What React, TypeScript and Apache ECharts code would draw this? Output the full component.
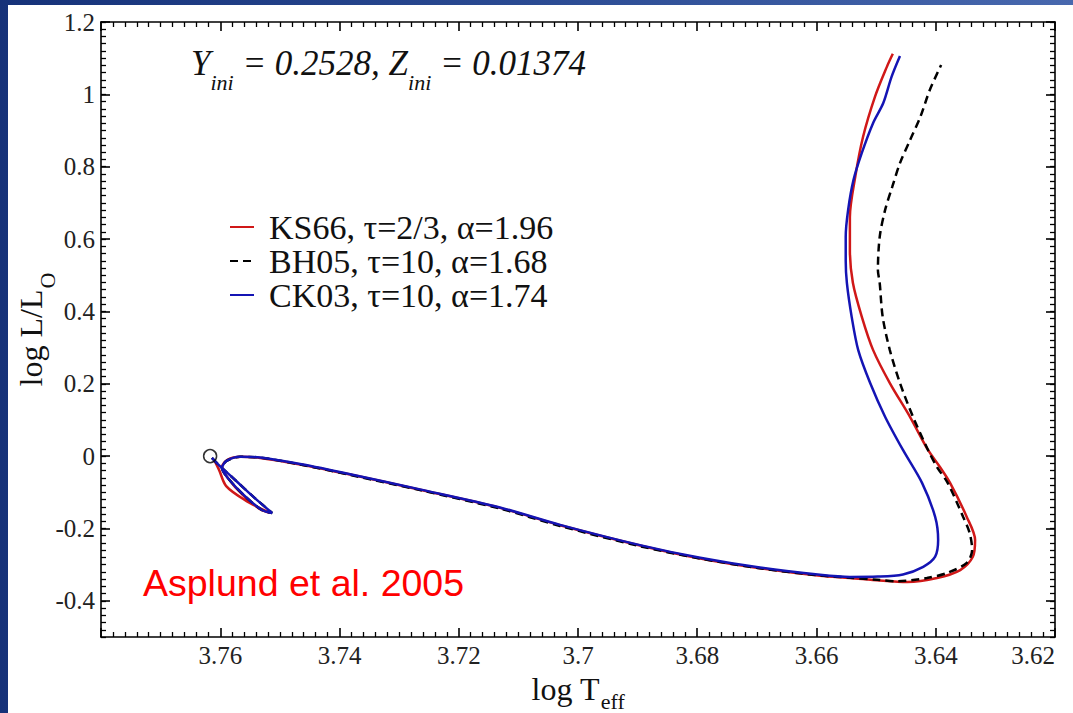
import React, { useEffect, useRef } from "react";
import * as echarts from "echarts";

// log Teff (x) , log L/Lsun (y)
const ks66Track: [number, number][] = [
  [3.7610, -0.011], [3.7602, -0.038], [3.7590, -0.083], [3.7559, -0.121], [3.7517, -0.157],
  [3.7533, -0.147], [3.7562, -0.108], [3.7587, -0.061], [3.7597, -0.030], [3.7588, -0.010],
  [3.7565, -0.002], [3.7533, -0.005], [3.7466, -0.023], [3.7382, -0.051], [3.7265, -0.093],
  [3.7131, -0.143], [3.7030, -0.191], [3.6896, -0.247], [3.6795, -0.283], [3.6695, -0.310],
  [3.6594, -0.331], [3.6544, -0.337], [3.6494, -0.344], [3.6448, -0.348], [3.6398, -0.337],
  [3.6359, -0.315], [3.6338, -0.279], [3.6334, -0.232], [3.6348, -0.168], [3.6376, -0.074],
  [3.6393, -0.030], [3.6413, 0.017], [3.6443, 0.108], [3.6477, 0.202], [3.6505, 0.293],
  [3.6524, 0.385], [3.6539, 0.479], [3.6544, 0.570], [3.6544, 0.661], [3.6535, 0.772],
  [3.6522, 0.882], [3.6502, 0.993], [3.6482, 1.076], [3.6472, 1.112],
];

const bh05Track: [number, number][] = [
  [3.7614, -0.005], [3.7604, -0.022], [3.7575, -0.066], [3.7542, -0.116], [3.7513, -0.157],
  [3.7530, -0.149], [3.7559, -0.110], [3.7587, -0.061], [3.7597, -0.033], [3.7590, -0.014],
  [3.7567, -0.002], [3.7533, -0.004], [3.7466, -0.023], [3.7382, -0.052], [3.7265, -0.094],
  [3.7131, -0.145], [3.7030, -0.193], [3.6896, -0.249], [3.6795, -0.283], [3.6695, -0.310],
  [3.6594, -0.330], [3.6544, -0.336], [3.6498, -0.342], [3.6465, -0.346], [3.6415, -0.337],
  [3.6381, -0.323], [3.6348, -0.295], [3.6339, -0.259], [3.6343, -0.213], [3.6354, -0.168],
  [3.6380, -0.074], [3.6398, -0.030], [3.6413, 0.017], [3.6438, 0.108], [3.6460, 0.202],
  [3.6477, 0.293], [3.6489, 0.385], [3.6494, 0.479], [3.6497, 0.514], [3.6494, 0.606],
  [3.6485, 0.680], [3.6473, 0.744], [3.6460, 0.810], [3.6443, 0.874], [3.6426, 0.937],
  [3.6410, 1.012], [3.6391, 1.081],
];

const ck03Track: [number, number][] = [
  [3.7614, -0.005], [3.7604, -0.022], [3.7575, -0.066], [3.7542, -0.116], [3.7513, -0.157],
  [3.7530, -0.149], [3.7559, -0.110], [3.7587, -0.061], [3.7597, -0.033], [3.7590, -0.014],
  [3.7567, -0.002], [3.7533, -0.004], [3.7466, -0.022], [3.7382, -0.050], [3.7265, -0.092],
  [3.7131, -0.142], [3.7030, -0.190], [3.6896, -0.246], [3.6795, -0.281], [3.6695, -0.308],
  [3.6594, -0.328], [3.6544, -0.334], [3.6497, -0.333], [3.6455, -0.327], [3.6421, -0.306],
  [3.6401, -0.278], [3.6396, -0.232], [3.6401, -0.168], [3.6423, -0.074], [3.6455, 0.017],
  [3.6485, 0.109], [3.6510, 0.202], [3.6530, 0.293], [3.6541, 0.385], [3.6549, 0.478],
  [3.6551, 0.540], [3.6551, 0.606], [3.6547, 0.680], [3.6538, 0.763], [3.6524, 0.838],
  [3.6505, 0.921], [3.6488, 0.976], [3.6474, 1.049], [3.6460, 1.106],
];

const sunPoint: [number, number][] = [[3.7617, 0]];

const seriesNames = ["KS66, τ=2/3, α=1.96", "BH05, τ=10, α=1.68", "CK03, τ=10, α=1.74"];
const seriesColors = ["#d01818", "#000000", "#1414b4"];

const X_MIN = 3.62;
const X_MAX = 3.78;
const X_STEP = 0.02;
const Y_MIN = -0.5;
const Y_MAX = 1.2;
const Y_LABEL_MIN = -0.4;
const Y_STEP = 0.2;

const annotation = "{m|Y}{s|ini}{m| = 0.2528, Z}{s|ini}{m| = 0.01374}";
const credit = "Asplund et al. 2005";

const SERIF = "Liberation Serif";
const SANS = "Liberation Sans";

export default function App() {
  const ref = useRef<HTMLDivElement>(null);
  useEffect(() => {
    if (!ref.current) return;
    const chart = echarts.init(ref.current, undefined, { renderer: "svg" });
    const mkLine = () => ({ show: true, onZero: false, lineStyle: { color: "#000", width: 1.6 } });
    const mkMinor = (n: number) => ({ show: true, splitNumber: n, length: 5, lineStyle: { color: "#000", width: 1.3 } });
    const mkMajor = () => ({ show: true, inside: true, length: 9, lineStyle: { color: "#000", width: 1.6 } });
    const mkSmall = () => ({ show: true, inside: true, length: 5, lineStyle: { color: "#000", width: 1.3 } });
    const mkRich = (pad: number) => ({
      a: { fontFamily: SERIF, fontSize: 32, color: "#111", lineHeight: 36, verticalAlign: "top" },
      b: { fontFamily: SERIF, fontSize: 22, color: "#111", lineHeight: 20, verticalAlign: "top", padding: [pad, 0, 0, 1] },
    });

    const option: any = {
      animation: false,
      backgroundColor: "transparent",
      textStyle: { fontFamily: SERIF, fontSize: 25, color: "#222" },
      grid: [
        { left: 101, right: 18, top: 22, bottom: 76, outerBoundsMode: "none", containLabel: false },
        { left: 101, right: 18, top: 22, bottom: 112.2, outerBoundsMode: "none", containLabel: false },
      ],
      xAxis: [
        {
          type: "value", gridIndex: 0, position: "bottom", min: X_MIN, max: X_MAX, interval: X_STEP, inverse: true,
          axisLine: mkLine(), axisTick: mkMajor(),
          minorTick: mkMinor(10), splitLine: { show: false }, minorSplitLine: { show: false },
          axisLabel: {
            show: true, margin: 6, fontFamily: SERIF, fontSize: 25, color: "#222", alignMinLabel: "right",
            formatter: (v: number) => (Math.abs(v - X_MAX) < 1e-6 ? "" : String(+v.toFixed(2))),
          },
          name: "{a|log T}{b|eff}", nameLocation: "middle", nameGap: 21,
          nameTextStyle: { rich: mkRich(18) },
        },
        {
          type: "value", gridIndex: 0, position: "top", min: X_MIN, max: X_MAX, interval: X_STEP, inverse: true,
          axisLine: mkLine(), axisTick: mkMajor(),
          minorTick: mkMinor(10), splitLine: { show: false }, axisLabel: { show: false },
        },
        { type: "value", gridIndex: 1, min: 0, max: 1, show: false },
      ],
      yAxis: [
        {
          type: "value", gridIndex: 0, position: "left", min: Y_MIN, max: Y_MAX, interval: 0.1,
          axisLine: mkLine(), axisTick: mkSmall(),
          minorTick: mkMinor(5), splitLine: { show: false }, axisLabel: { show: false },
          name: "{a|log L/L}{b|O}", nameLocation: "middle", nameGap: 50, nameRotate: 90,
          nameTextStyle: { rich: mkRich(21) },
        },
        {
          type: "value", gridIndex: 0, position: "right", min: Y_MIN, max: Y_MAX, interval: 0.1,
          axisLine: mkLine(), axisTick: mkSmall(),
          minorTick: mkMinor(5), splitLine: { show: false }, axisLabel: { show: false },
        },
        {
          type: "value", gridIndex: 1, position: "left", min: Y_LABEL_MIN, max: Y_MAX, interval: Y_STEP,
          axisLine: { show: false, onZero: false }, axisTick: mkMajor(),
          splitLine: { show: false },
          axisLabel: {
            show: true, margin: 6, fontFamily: SERIF, fontSize: 25, color: "#222",
            formatter: (v: number) => String(+v.toFixed(1)),
          },
        },
        {
          type: "value", gridIndex: 1, position: "right", min: Y_LABEL_MIN, max: Y_MAX, interval: Y_STEP,
          axisLine: { show: false, onZero: false }, axisTick: mkMajor(),
          splitLine: { show: false }, axisLabel: { show: false },
        },
      ],
      legend: {
        orient: "vertical", left: 224, top: 205, itemWidth: 24, itemHeight: 14, itemGap: 0,
        selectedMode: false, data: seriesNames,
        itemStyle: { opacity: 0 },
        textStyle: { fontFamily: SERIF, fontSize: 34, color: "#111", lineHeight: 34, padding: [0, 0, 0, 10] },
      },
      series: [
        {
          name: seriesNames[0], type: "line", xAxisIndex: 0, yAxisIndex: 0, data: ks66Track, symbol: "none",
          smooth: 0.3, lineStyle: { color: seriesColors[0], width: 2.5 }, itemStyle: { color: seriesColors[0] }, z: 3,
        },
        {
          name: seriesNames[1], type: "line", xAxisIndex: 0, yAxisIndex: 0, data: bh05Track, symbol: "none",
          smooth: 0.3, lineStyle: { color: seriesColors[1], width: 2.5, type: [8, 5] }, itemStyle: { color: seriesColors[1] }, z: 4,
        },
        {
          name: seriesNames[2], type: "line", xAxisIndex: 0, yAxisIndex: 0, data: ck03Track, symbol: "none",
          smooth: 0.3, lineStyle: { color: seriesColors[2], width: 2.5 }, itemStyle: { color: seriesColors[2] }, z: 5,
        },
        {
          name: "Sun", type: "scatter", xAxisIndex: 0, yAxisIndex: 0, data: sunPoint, symbol: "circle", symbolSize: 13,
          itemStyle: { color: "rgba(0,0,0,0)", borderColor: "#000", borderWidth: 1.5 }, z: 6,
        },
      ],
      graphic: [
        {
          type: "text", left: 191, top: 46, z: 10,
          style: {
            text: annotation,
            rich: {
              m: { fontFamily: SERIF, fontStyle: "italic", fontSize: 35, fill: "#111", lineHeight: 38, verticalAlign: "top" },
              s: { fontFamily: SERIF, fontStyle: "italic", fontSize: 22, fill: "#111", lineHeight: 22, verticalAlign: "top", padding: [25, 0, 0, 0] },
            },
          },
        },
        {
          type: "text", left: 143, top: 564, z: 10,
          style: { text: credit, fontFamily: SANS, fontSize: 37.5, fill: "#ff0000" },
        },
      ],
    };
    chart.setOption(option);
    return () => chart.dispose();
  }, []);

  return (
    <div style={{ position: "fixed", left: 0, top: 0, width: 1073, height: 713, background: "linear-gradient(90deg, #163279 0%, #2b4b93 50%, #4868ae 100%)" }}>
      <div style={{ position: "absolute", left: 8, top: 5, right: 0, bottom: 0, background: "#ffffff" }} />
      <div ref={ref} style={{ position: "absolute", left: 0, top: 0, width: 1073, height: 713 }} />
    </div>
  );
}
